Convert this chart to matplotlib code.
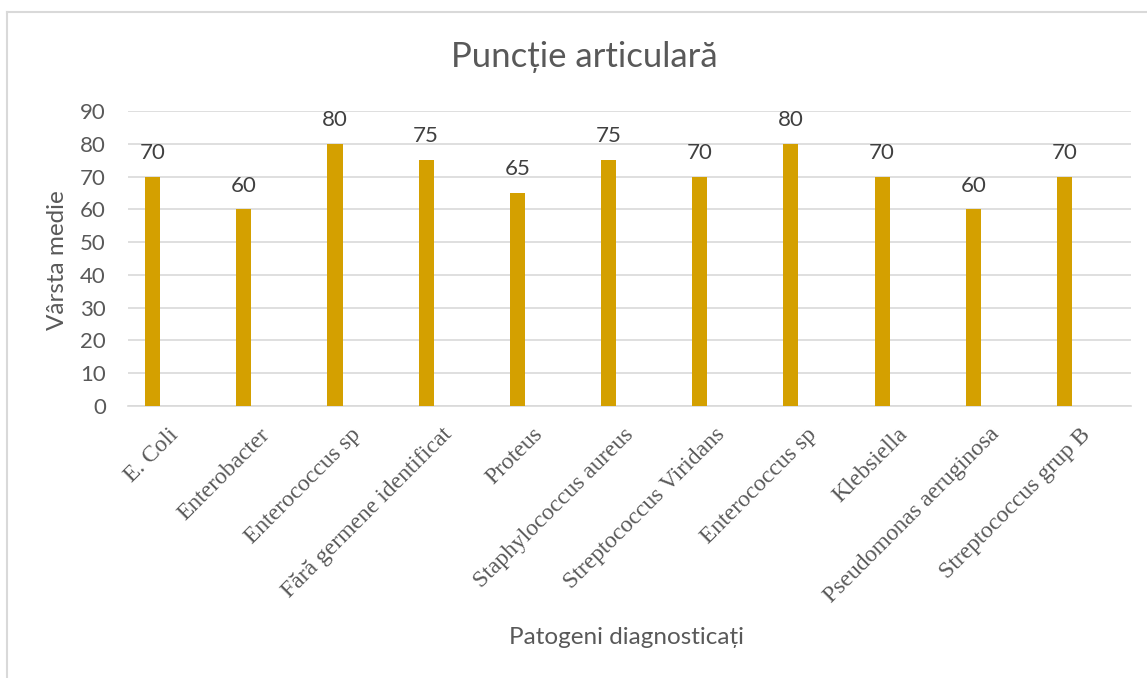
import matplotlib
matplotlib.use("Agg")
import matplotlib.pyplot as plt
from matplotlib.lines import Line2D
from matplotlib.transforms import ScaledTranslation

categories = [
    "E. Coli", "Enterobacter", "Enterococcus sp", "Fără germene identificat",
    "Proteus", "Staphylococcus aureus", "Streptococcus Viridans",
    "Enterococcus sp", "Klebsiella", "Pseudomonas aeruginosa",
    "Streptococcus grup B",
]
values = [70, 60, 80, 75, 65, 75, 70, 80, 70, 60, 70]
yticks = [0, 10, 20, 30, 40, 50, 60, 70, 80, 90]

W, H = 1147, 678
fig = plt.figure(figsize=(W / 100, H / 100), dpi=100)
fig.patch.set_facecolor("white")

# partial frame around the chart area
fig.add_artist(Line2D([7 / W, 1.0], [1 - 12 / H, 1 - 12 / H], color="#d9d9d9", lw=1.5))
fig.add_artist(Line2D([7 / W, 7 / W], [0.0, 1 - 12 / H], color="#d9d9d9", lw=1.5))

left, right = 128 / W, 1131 / W
bottom, top = 1 - 406 / H, 1 - 111 / H
ax = fig.add_axes([left, bottom, right - left, top - bottom])

gray = "#595959"
x = list(range(len(categories)))
bars = ax.bar(x, values, width=0.165, color="#d4a000", zorder=3)

ax.set_xlim(-0.27, len(categories) - 1 + 0.73)
ax.set_ylim(0, 90)
ax.set_yticks(yticks)
ax.set_yticklabels([str(t) for t in yticks], fontsize=16, color=gray, family="Lato")
ax.yaxis.grid(True, color="#d9d9d9", lw=1.2, zorder=0)
ax.set_axisbelow(True)
for s in ["top", "right", "left"]:
    ax.spines[s].set_visible(False)
ax.spines["bottom"].set_color("#d9d9d9")
ax.spines["bottom"].set_linewidth(1.2)
ax.tick_params(axis="y", length=0, pad=16)
ax.tick_params(axis="x", length=0, pad=13)

ax.set_xticks(x)
ax.set_xticklabels(categories, rotation=45, ha="right", rotation_mode="anchor",
                   fontsize=17, color=gray, family="Liberation Serif")
shift = ScaledTranslation(15 / 100, 0, fig.dpi_scale_trans)
for lbl in ax.get_xticklabels():
    lbl.set_transform(lbl.get_transform() + shift)

for b, v in zip(bars, values):
    ax.text(b.get_x() + b.get_width() / 2, v + 4.2, str(v), ha="center", va="bottom",
            fontsize=16, color="#404040", family="Lato")

fig.text((452 + 716) / 2 / W, 1 - 57 / H, "Puncție articulară", ha="center", va="center",
         fontsize=25, color=gray, family="Lato")
fig.text(58 / W, 1 - 260 / H, "Vârsta medie", ha="center", va="center", rotation=90,
         fontsize=17.5, color=gray, family="Lato")
fig.text((510 + 743) / 2 / W, 1 - 637 / H, "Patogeni diagnosticați", ha="center", va="center",
         fontsize=17.5, color=gray, family="Lato")

fig.savefig("out.png", dpi=100, facecolor="white")
